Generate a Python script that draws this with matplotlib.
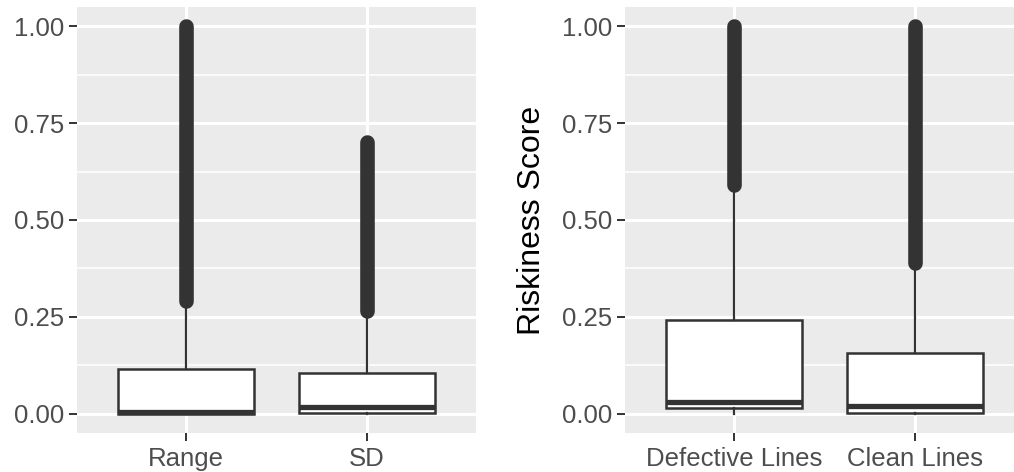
import matplotlib
matplotlib.use("Agg")
import matplotlib.pyplot as plt
from matplotlib.ticker import MultipleLocator

plt.rcParams["font.family"] = ["Liberation Sans", "DejaVu Sans"]

# left panel: riskiness by aggregation
left_cats = ["Range", "SD"]
left_whislo = [0.0, 0.0]
left_q1 = [0.0, 0.002]
left_med = [0.005, 0.018]
left_q3 = [0.115, 0.105]
left_whishi = [0.28, 0.26]
left_out_lo = [0.29, 0.265]
left_out_hi = [1.0, 0.70]

# right panel: defective vs clean lines
right_cats = ["Defective Lines", "Clean Lines"]
right_whislo = [0.0, 0.0]
right_q1 = [0.015, 0.002]
right_med = [0.032, 0.02]
right_q3 = [0.242, 0.156]
right_whishi = [0.58, 0.38]
right_out_lo = [0.59, 0.388]
right_out_hi = [1.0, 1.0]

DARK = "#333333"
BG = "#EBEBEB"


def draw_panel(ax, cats, whislo, q1, med, q3, whishi, out_lo, out_hi):
    stats = []
    for i in range(len(cats)):
        stats.append(dict(label=cats[i], whislo=whislo[i], q1=q1[i], med=med[i],
                          q3=q3[i], whishi=whishi[i], fliers=[]))
    pos = list(range(1, len(cats) + 1))
    ax.set_facecolor(BG)
    ax.set_axisbelow(True)
    ax.grid(which="major", color="white", linewidth=2.2)
    ax.grid(which="minor", axis="y", color="white", linewidth=1.1)
    # dense outliers drawn as stacked points (thick rounded stroke)
    for p, lo, hi in zip(pos, out_lo, out_hi):
        ax.plot([p, p], [lo, hi], color=DARK, linewidth=10.5,
                solid_capstyle="round", zorder=2)
    ax.bxp(stats, positions=pos, widths=0.75, showcaps=False, showfliers=False,
           patch_artist=True,
           boxprops=dict(facecolor="white", edgecolor=DARK, linewidth=1.8),
           whiskerprops=dict(color=DARK, linewidth=1.6),
           medianprops=dict(color=DARK, linewidth=3.8),
           zorder=3)
    ax.set_xlim(0.4, len(cats) + 0.6)
    ax.set_ylim(-0.05, 1.05)
    ax.yaxis.set_major_locator(MultipleLocator(0.25))
    ax.yaxis.set_minor_locator(MultipleLocator(0.125))
    ax.set_yticks([0, 0.25, 0.5, 0.75, 1.0])
    ax.set_yticklabels(["0.00", "0.25", "0.50", "0.75", "1.00"])
    ax.set_xticks(pos)
    ax.set_xticklabels(cats)
    ax.tick_params(which="major", length=5.5, width=1.4, color=DARK,
                   labelsize=18.5, labelcolor="#4D4D4D", pad=4)
    ax.tick_params(which="minor", length=0)
    for s in ax.spines.values():
        s.set_visible(False)


fig = plt.figure(figsize=(10.14, 4.72), dpi=100)
ax1 = fig.add_axes([77 / 1014, 0.0818, 399 / 1014, 0.9042])
ax2 = fig.add_axes([625 / 1014, 0.0818, 399 / 1014, 0.9042])

draw_panel(ax1, left_cats, left_whislo, left_q1, left_med, left_q3,
           left_whishi, left_out_lo, left_out_hi)
draw_panel(ax2, right_cats, right_whislo, right_q1, right_med, right_q3,
           right_whishi, right_out_lo, right_out_hi)

ax2.set_ylabel("Riskiness Score", fontsize=23, color="black")
ax2.yaxis.set_label_coords(-0.195, 0.5)

fig.savefig("out.png", dpi=100)
